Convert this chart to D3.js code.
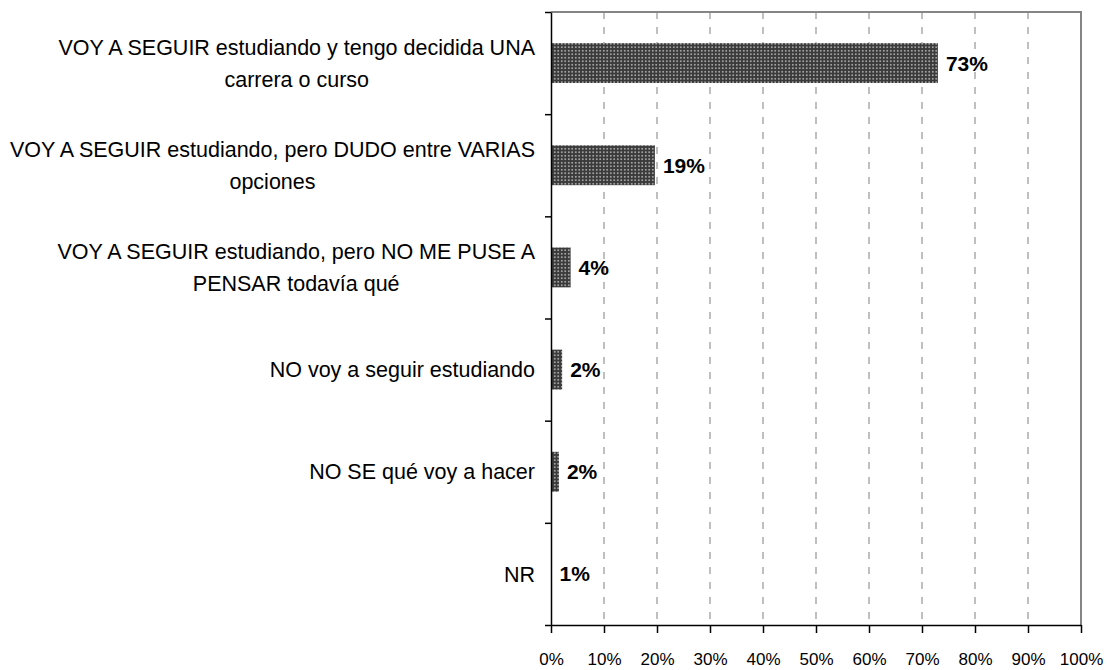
<!DOCTYPE html>
<html>
<head>
<meta charset="utf-8">
<script src="https://cdn.jsdelivr.net/npm/d3@7"></script>
<style>
body{margin:0;background:#fff}
svg{display:block}
</style>
</head>
<body>
<script>
// categories (one line per array item, as wrapped in the picture)
var categories=[
	["VOY A SEGUIR estudiando y tengo decidida UNA","carrera o curso"],
	["VOY A SEGUIR estudiando, pero DUDO entre VARIAS","opciones"],
	["VOY A SEGUIR estudiando, pero NO ME PUSE A","PENSAR todavía qué"],
	["NO voy a seguir estudiando"],
	["NO SE qué voy a hacer"],
	["NR"]
]
var values=[73.0,19.6,3.7,2.1,1.5,0.1]
var valueLabels=["73%","19%","4%","2%","2%","1%"]
var xTicks=[0,10,20,30,40,50,60,70,80,90,100]

var W=1107,H=670
// plot box (note: "top" is reserved on window, so use a box object)
var box={left:551,right:1081,top:12,bottom:625}

const svg=d3.select("body").append("svg").attr("width",W).attr("height",H)
	.style("font-family","'Liberation Sans',Arial,sans-serif")

// dotted fill like the original
var defs=svg.append("defs")
var pat=defs.append("pattern").attr("id","dots").attr("patternUnits","userSpaceOnUse")
	.attr("width",3.5).attr("height",3.5)
pat.append("rect").attr("width",3.5).attr("height",3.5).attr("fill","#3a3a3a")
pat.append("rect").attr("x",1).attr("y",1).attr("width",1.5).attr("height",1.5).attr("fill","#c8c8c8")

var ids=d3.range(categories.length)
var x=d3.scaleLinear().domain([0,100]).range([box.left,box.right])
var y=d3.scaleBand().domain(ids).range([box.top,box.bottom]).paddingInner(0.61).paddingOuter(0.305)
var yb=d3.scaleLinear().domain([0,categories.length]).range([box.top,box.bottom])

// gridlines
svg.append("g").selectAll("line").data(xTicks.filter(d=>d>0&&d<100)).join("line")
	.attr("x1",d=>x(d)).attr("x2",d=>x(d)).attr("y1",box.top).attr("y2",box.bottom)
	.attr("stroke","#aaa").attr("stroke-width",1.5).attr("stroke-dasharray","7,8")

// plot border (top / right)
svg.append("path").attr("d","M"+box.left+","+box.top+"H"+box.right+"V"+box.bottom)
	.attr("fill","none").attr("stroke","#858585").attr("stroke-width",2)

// bars
svg.append("g").selectAll("rect").data(ids).join("rect")
	.attr("x",x(0)).attr("y",d=>y(d))
	.attr("width",d=>x(values[d])-x(0)).attr("height",y.bandwidth())
	.attr("fill","url(#dots)")

// value labels
svg.append("g").selectAll("text").data(ids).join("text")
	.attr("x",d=>x(values[d])+8).attr("y",d=>y(d)+y.bandwidth()/2)
	.attr("dy","0.36em").attr("font-size",21).attr("font-weight","bold")
	.text(d=>valueLabels[d])

// x axis
var xa=svg.append("g").attr("transform","translate(0,"+box.bottom+")")
	.call(d3.axisBottom(x).tickValues(xTicks).tickFormat(d=>d+"%").tickSize(8).tickPadding(20).tickSizeOuter(0))
xa.select(".domain").attr("stroke","#000").attr("stroke-width",1.5)
xa.selectAll(".tick line").attr("stroke","#000").attr("stroke-width",1.5)
xa.selectAll(".tick text").attr("font-size",17).attr("font-family","'Liberation Sans Narrow','Liberation Sans',Arial,sans-serif").attr("fill","#000")

// y axis (ticks at category boundaries)
var ya=svg.append("g").attr("transform","translate("+box.left+",0)")
	.call(d3.axisLeft(yb).tickValues(d3.range(categories.length+1)).tickFormat("").tickSize(6).tickSizeOuter(0))
ya.select(".domain").attr("stroke","#000").attr("stroke-width",1.5)
ya.selectAll(".tick line").attr("stroke","#000").attr("stroke-width",1.5)

// category labels, lines centered in a block that ends near the axis
var lineH=32
var cat=svg.append("g").attr("font-size",21.5).attr("fill","#000")
ids.forEach(function(i){
	var lines=categories[i]
	var g=cat.append("g")
	var t=g.selectAll("text").data(lines).join("text")
		.attr("y",(d,k)=>y(i)+y.bandwidth()/2+(k-(lines.length-1)/2)*lineH)
		.attr("dy","0.36em").text(d=>d)
	var maxW=0
	t.each(function(){maxW=Math.max(maxW,this.getComputedTextLength())})
	t.attr("text-anchor","middle").attr("x",535-maxW/2)
})
</script>
</body>
</html>
